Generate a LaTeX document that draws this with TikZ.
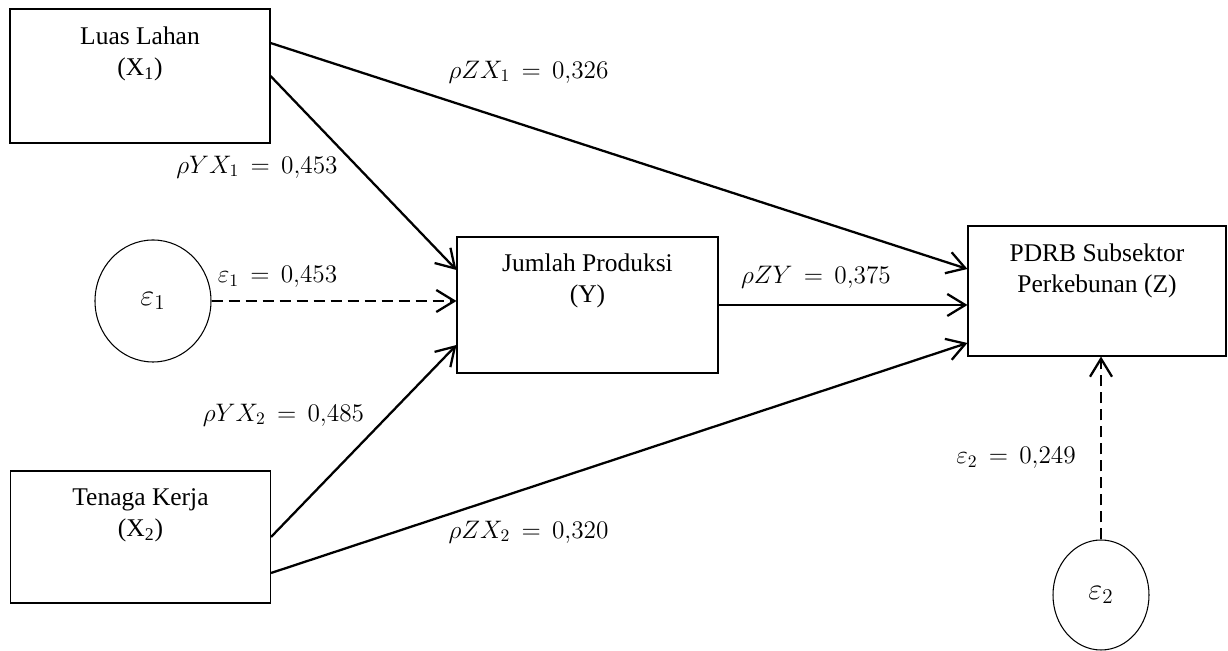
\documentclass[tikz,border=0pt]{standalone}
\usepackage{fontspec}
\setmainfont{Liberation Serif}
\usetikzlibrary{shapes.geometric,positioning,arrows.meta}

\begin{document}
\begin{tikzpicture}[
  varbox/.style={rectangle,draw,line width=0.6pt,minimum width=5.2cm,minimum height=2.68cm,inner sep=0pt},
  boxtext/.style={anchor=north,align=center,inner sep=0pt,font=\fontsize{14.5}{17.5}\selectfont},
  errnode/.style={ellipse,draw,line width=0.6pt,inner sep=0pt,font=\fontsize{18}{20}\selectfont},
  coeflabel/.style={inner sep=0pt,font=\fontsize{14}{16}\selectfont},
  patharrow/.style={-{Straight Barb[length=0.36cm,width=0.44cm]},line width=1.3pt},
  errarrow/.style={patharrow,dash pattern=on 0.22cm off 0.12cm},
]
\useasboundingbox (0,0) rectangle (24.56,13.02);

% Variables
\node[varbox] (x1) at (2.8,11.5) {};
\node[varbox,minimum height=2.64cm] (x2) at (2.81,2.28) {};
\node[varbox,minimum width=5.22cm,minimum height=2.72cm] (y) at (11.75,6.92) {};
\node[varbox,minimum width=5.16cm,minimum height=2.6cm] (z) at (21.94,7.2) {};

\node[boxtext] (x1t) at ([yshift=-0.36cm]x1.north) {Luas Lahan\\(X\textsubscript{1})};
\node[boxtext] (x2t) at ([yshift=-0.36cm]x2.north) {Tenaga Kerja\\(X\textsubscript{2})};
\node[boxtext] (yt) at ([yshift=-0.34cm]y.north) {Jumlah Produksi\\(Y)};
\node[boxtext] (zt) at ([yshift=-0.36cm]z.north) {PDRB Subsektor\\Perkebunan (Z)};

% Error terms
\node[errnode,minimum width=2.32cm,minimum height=2.44cm] (e1) at (3.06,7.0) {$\varepsilon_1$};
\node[errnode,minimum width=1.92cm,minimum height=2.2cm] (e2) at (22.02,1.12) {$\varepsilon_2$};

% Paths
\draw[patharrow] ([yshift=0.66cm]x1.east) -- ([yshift=0.44cm]z.west);
\draw[patharrow] (x1.east) -- ([yshift=0.7cm]y.west);
\draw[errarrow] (e1.east) -- (e1.east -| y.west);
\draw[patharrow] (y.east) -- (y.east -| z.west);
\draw[patharrow] (x2.east) -- ([yshift=-0.8cm]y.west);
\draw[patharrow] ([yshift=-0.72cm]x2.east) -- ([yshift=-1.04cm]z.west);
\draw[errarrow] (e2.north) -- (e2.north |- z.south);

% Coefficients
\node[coeflabel] (lzx1) at (10.57,11.58) {$\rho Z X_1\,=\,0{,}326$};
\node[coeflabel] (lyx1) at (5.14,9.68) {$\rho Y X_1\,=\,0{,}453$};
\node[coeflabel] (le1) at (5.55,7.48) {$\varepsilon_1\,=\,0{,}453$};
\node[coeflabel] (lzy) at (16.32,7.48) {$\rho Z Y\,=\,0{,}375$};
\node[coeflabel] (lyx2) at (5.67,4.72) {$\rho Y X_2\,=\,0{,}485$};
\node[coeflabel] (lzx2) at (10.57,2.38) {$\rho Z X_2\,=\,0{,}320$};
\node[coeflabel] (le2) at (20.32,3.86) {$\varepsilon_2\,=\,0{,}249$};

\end{tikzpicture}
\end{document}
